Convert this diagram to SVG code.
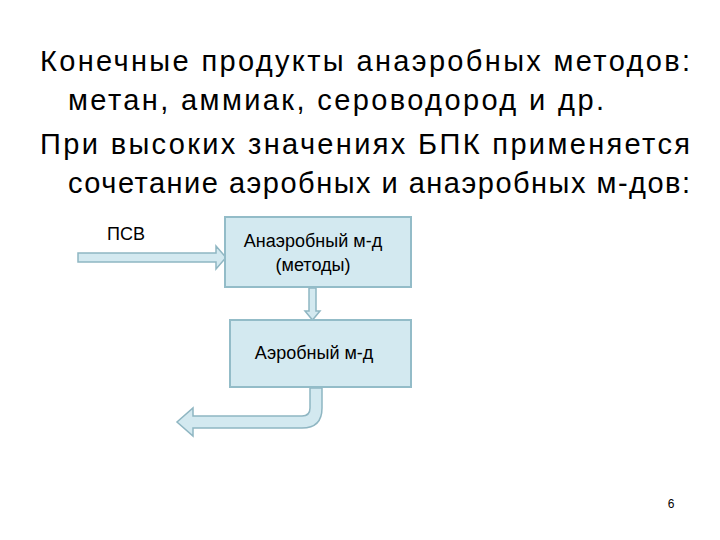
<svg xmlns="http://www.w3.org/2000/svg" width="720" height="540" viewBox="0 0 720 540">
<style>
.t{font-family:"Liberation Sans",Arial,sans-serif;font-size:29px;fill:#000}
.s{font-family:"Liberation Sans",Arial,sans-serif;font-size:18px;fill:#000}
.box{fill:#d3e9f0;stroke:#93bcc8;stroke-width:2}
.ar{fill:#d3e9f0;stroke:#8fb6c2;stroke-width:1.5}
</style>
<rect width="720" height="540" fill="#fff"/>
<text class="t" x="40" y="71" textLength="650" lengthAdjust="spacing">Конечные продукты анаэробных методов:</text>
<text class="t" x="68" y="110" textLength="536" lengthAdjust="spacing">метан, аммиак, сероводород и др.</text>
<text class="t" x="40" y="154" textLength="650" lengthAdjust="spacing">При высоких значениях БПК применяется</text>
<text class="t" x="68" y="193" textLength="622" lengthAdjust="spacing">сочетание аэробных и анаэробных м-дов:</text>
<g id="connectors">
<path class="ar" d="M78,253 H216 V246 L226,257.5 L216,269 V262 H78 Z"/>
<path class="ar" d="M309,288 H316 V311 H320 L312.5,320 L305,311 H309 Z"/>
<path class="ar" d="M310,388 H322 V408 Q322,428 302,428 H193 V436 L177,422 L193,408 V416 H302 Q310,416 310,408 Z"/>
</g>
<g id="psv"><text class="s" x="107" y="240">ПСВ</text></g>
<g id="anaerobic">
<rect class="box" x="225" y="217" width="186" height="70"/>
<text class="s" x="313" y="247" text-anchor="middle">Анаэробный м-д</text>
<text class="s" x="313" y="271" text-anchor="middle">(методы)</text>
</g>
<g id="aerobic">
<rect class="box" x="230" y="320" width="181" height="67"/>
<text class="s" x="314" y="359" text-anchor="middle">Аэробный м-д</text>
</g>
<text x="671" y="508" font-family="Liberation Sans,Arial,sans-serif" font-size="12" text-anchor="middle">6</text>
</svg>
